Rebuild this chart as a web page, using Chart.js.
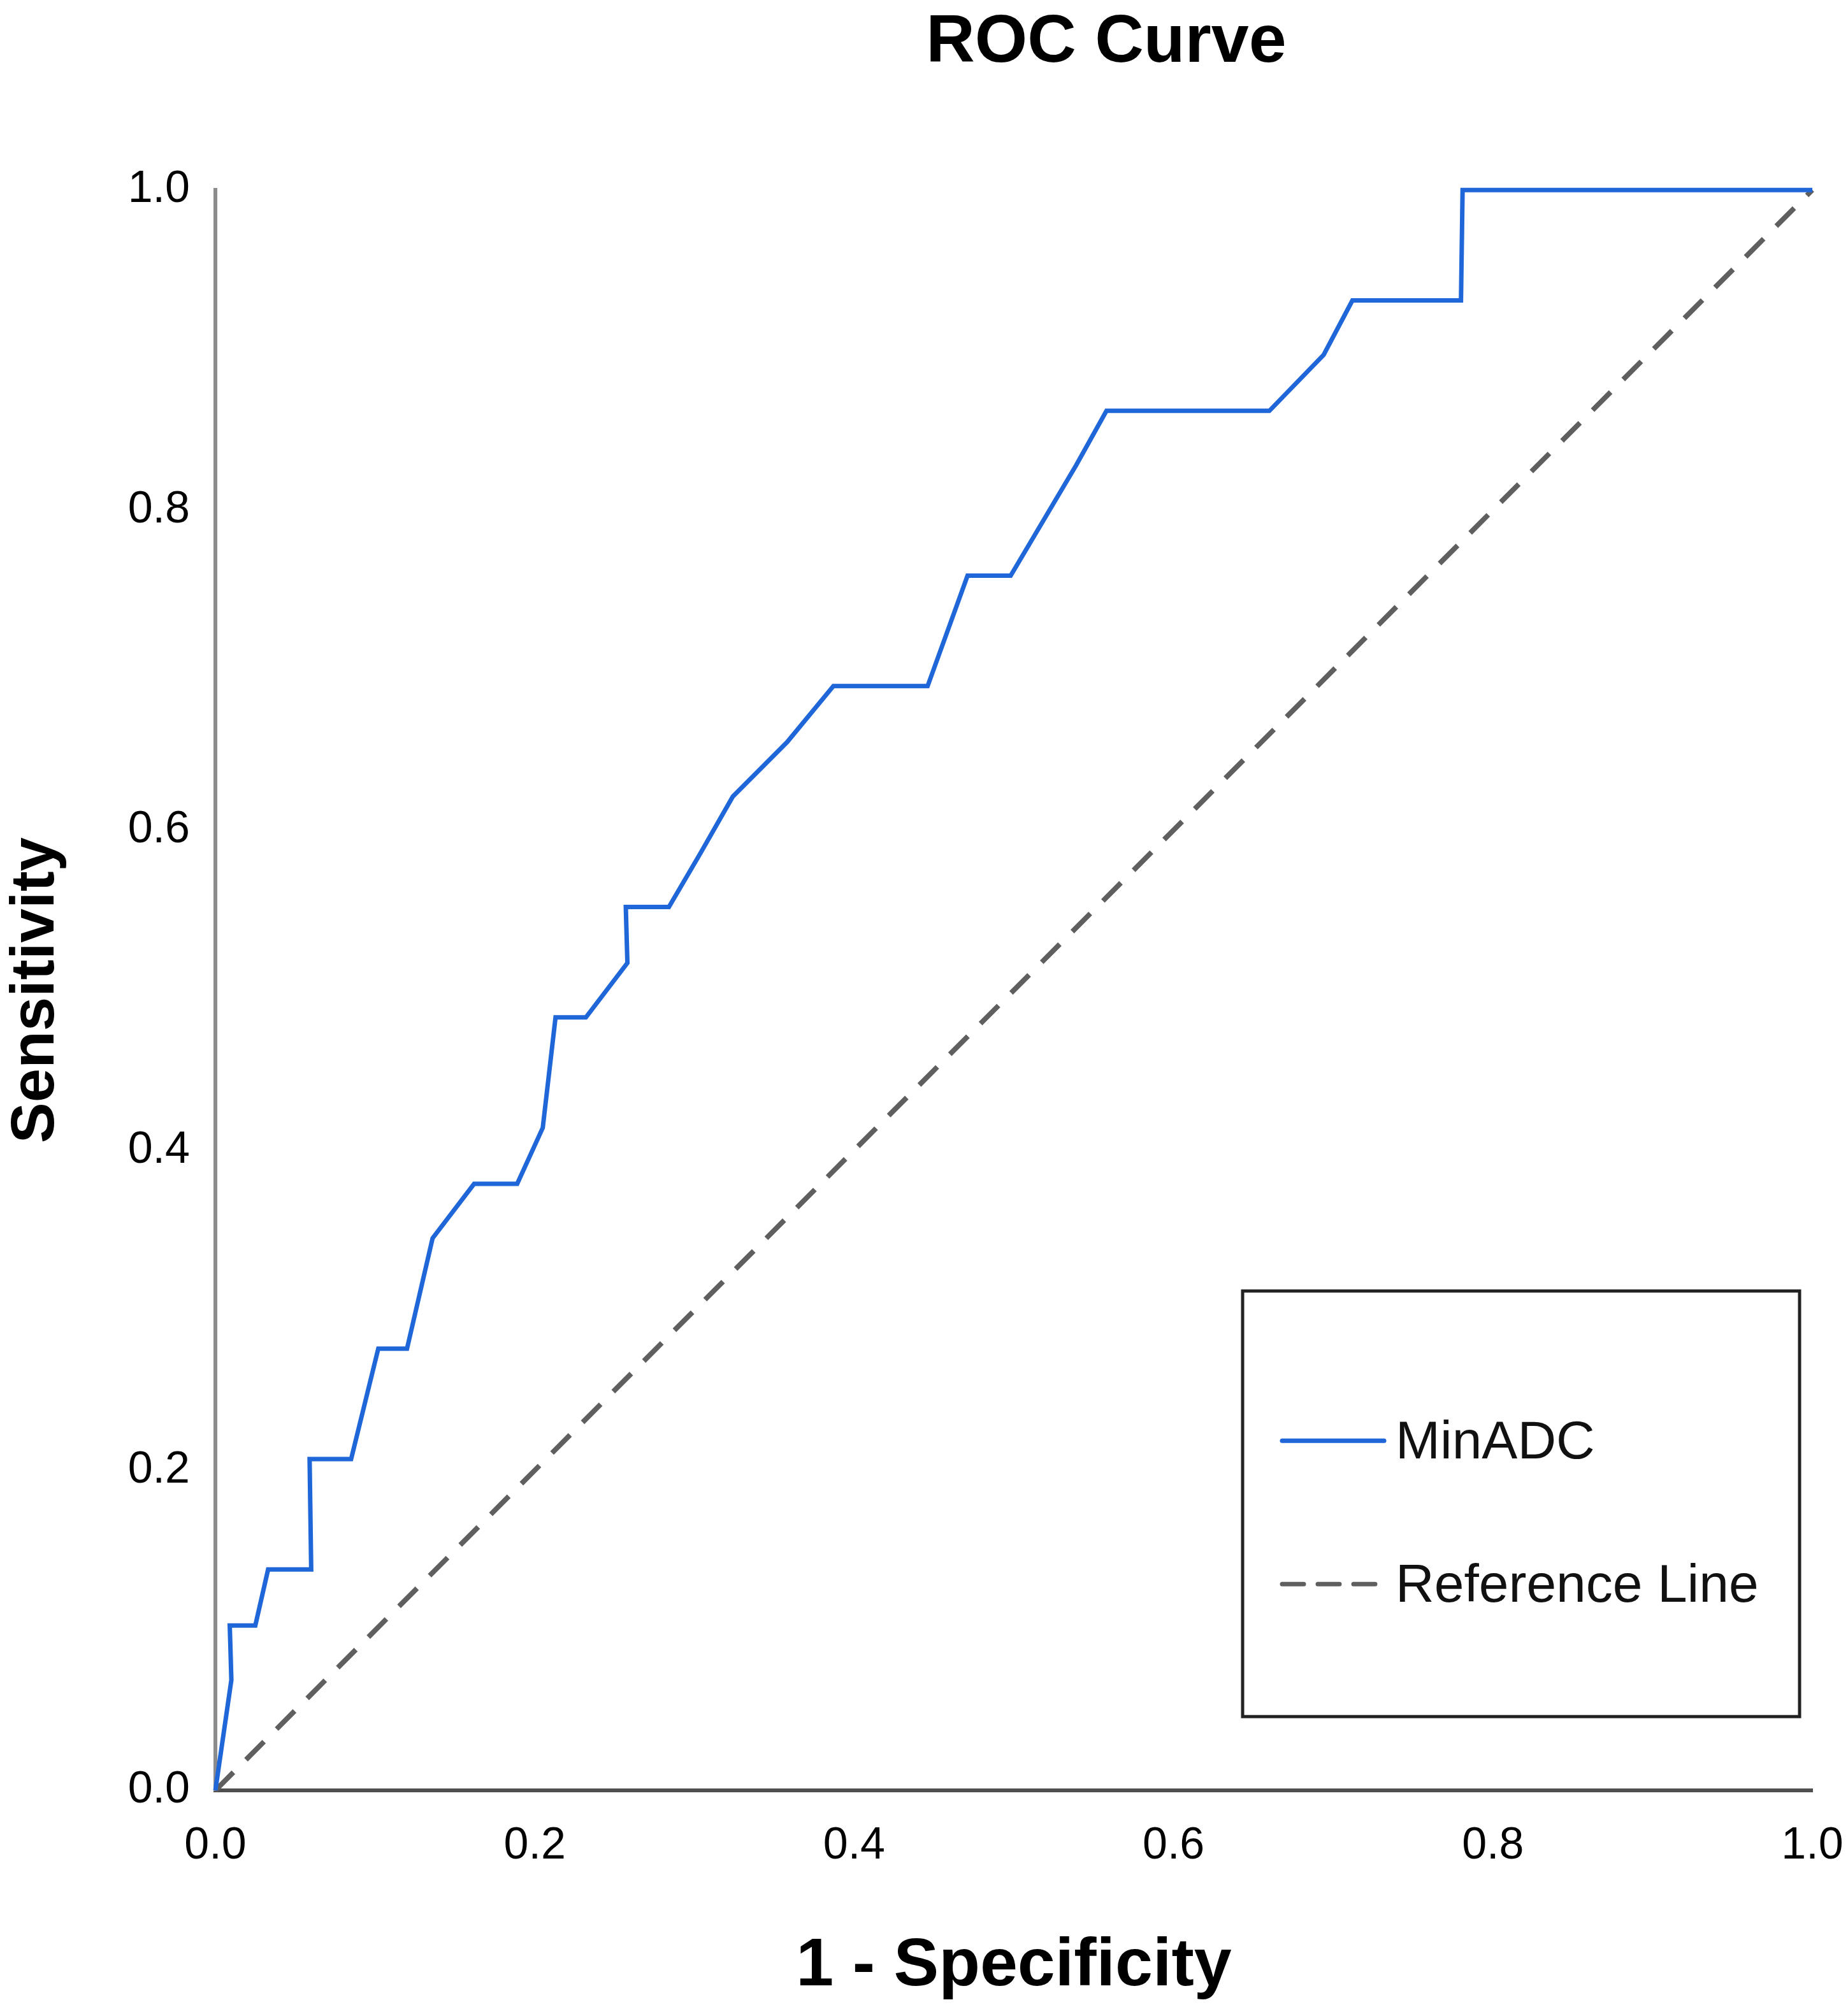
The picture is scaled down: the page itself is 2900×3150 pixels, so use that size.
<!DOCTYPE html>
<html>
<head>
<meta charset="utf-8">
<script src="https://cdn.jsdelivr.net/npm/chart.js@4.4.1/dist/chart.umd.min.js"></script>
<style>
  html, body { margin: 0; padding: 0; background: #ffffff; }
  #wrap { width: 2900px; height: 3150px; position: relative; }
</style>
</head>
<body>
<div id="wrap"><canvas id="c"></canvas></div>
<script>
// ---- data ----
const chartTitle = "ROC Curve";
const xTitle = "1 - Specificity";
const yTitle = "Sensitivity";
const seriesNames = ["MinADC", "Reference Line"];
const minadcFPR = [0, 0.010, 0.009, 0.025, 0.033, 0.060, 0.059, 0.085, 0.102, 0.120, 0.136, 0.162, 0.189, 0.205, 0.213, 0.232, 0.258, 0.257, 0.284, 0.304, 0.324, 0.358, 0.387, 0.446, 0.471, 0.498, 0.539, 0.558, 0.660, 0.694, 0.712, 0.780, 0.781, 1.0];
const minadcTPR = [0, 0.069, 0.103, 0.103, 0.138, 0.138, 0.207, 0.207, 0.276, 0.276, 0.345, 0.379, 0.379, 0.414, 0.483, 0.483, 0.517, 0.552, 0.552, 0.586, 0.621, 0.655, 0.690, 0.690, 0.759, 0.759, 0.828, 0.862, 0.862, 0.897, 0.931, 0.931, 1.0, 1.0];
const refX = [0, 1];
const refY = [0, 1];
const tickValues = [0, 0.2, 0.4, 0.6, 0.8, 1.0];
const tickLabels = ["0.0", "0.2", "0.4", "0.6", "0.8", "1.0"];

const FONT = "'Liberation Sans', Arial, Helvetica, sans-serif";
const blue = "#1f66d8";
const gray = "#5f5f5f";

const curvePts = minadcFPR.map((x, i) => ({ x: x, y: minadcTPR[i] }));
const refPts = refX.map((x, i) => ({ x: x, y: refY[i] }));

// title is centred a little right of the plot centre in the reference
const titleShift = {
  id: "titleShift",
  afterLayout(chart) {
    const tb = chart.titleBlock;
    if (tb) {
      tb.left = chart.chartArea.left + 290;
      tb.right = chart.chartArea.right;
    }
  }
};

const boxLegend = {
  id: "boxLegend",
  afterDraw(chart) {
    const ctx = chart.ctx;
    const ca = chart.chartArea;
    const left = ca.right - 894, right = ca.right - 20;
    const top = ca.top + 1728, bottom = ca.top + 2396;
    ctx.save();
    ctx.strokeStyle = "#222222";
    ctx.lineWidth = 5;
    ctx.strokeRect(left, top, right - left, bottom - top);
    const ds = chart.data.datasets;
    const rows = [top + 235, top + 460];
    ds.forEach((d, i) => {
      const y = rows[i];
      ctx.beginPath();
      ctx.strokeStyle = d.borderColor;
      ctx.lineWidth = 7;
      ctx.lineCap = "round";
      ctx.setLineDash(d.borderDash ? [34, 22] : []);
      ctx.moveTo(left + 62, y);
      ctx.lineTo(left + 222, y);
      ctx.stroke();
      ctx.setLineDash([]);
      ctx.fillStyle = "#111111";
      ctx.font = "84px " + FONT;
      ctx.textBaseline = "middle";
      ctx.textAlign = "left";
      ctx.fillText(d.label, left + 240, y + 5);
    });
    ctx.restore();
  }
};

new Chart(document.getElementById("c"), {
  type: "line",
  data: {
    datasets: [
      { label: seriesNames[0], data: curvePts, borderColor: blue, borderWidth: 7,
        pointRadius: 0, tension: 0, fill: false, clip: false, borderJoinStyle: "miter" },
      { label: seriesNames[1], data: refPts, borderColor: gray, borderWidth: 8,
        borderDash: [40, 28], pointRadius: 0, tension: 0, fill: false, clip: false }
    ]
  },
  options: {
    responsive: true,
    maintainAspectRatio: false,
    devicePixelRatio: 1,
    animation: false,
    layout: { padding: { top: 0, left: 0, right: 56, bottom: 0 } },
    plugins: {
      legend: { display: false },
      tooltip: { enabled: false },
      title: {
        display: true, text: chartTitle, color: "#000000",
        font: { family: FONT, size: 106, weight: "bold", lineHeight: 1.2 },
        padding: { top: 4, bottom: 167 }
      }
    },
    scales: {
      x: {
        type: "linear", min: 0, max: 1,
        afterBuildTicks(scale) { scale.ticks = tickValues.map(v => ({ value: v })); },
        afterFit(scale) { scale.height = 340; scale.paddingLeft = 0; scale.paddingRight = 0; },
        grid: { display: false, drawTicks: false },
        border: { display: true, color: "#4f4f4f", width: 6 },
        ticks: { padding: 46, color: "#000000", font: { family: FONT, size: 70 },
          callback: (v) => tickLabels[tickValues.indexOf(v)] ?? v.toFixed(1), maxRotation: 0, autoSkip: false },
        title: { display: true, text: xTitle, color: "#000000",
          font: { family: FONT, size: 106, weight: "bold", lineHeight: 1.2 },
          padding: { top: 0, bottom: 0 } }
      },
      y: {
        type: "linear", min: 0, max: 1,
        afterBuildTicks(scale) { scale.ticks = tickValues.map(v => ({ value: v })); },
        afterFit(scale) { scale.width = 338; scale.paddingTop = 0; scale.paddingBottom = 0; },
        grid: { display: false, drawTicks: false },
        border: { display: true, color: "#8c8c8c", width: 6 },
        ticks: { padding: 40, color: "#000000", font: { family: FONT, size: 70 },
          callback: (v) => tickLabels[tickValues.indexOf(v)] ?? v.toFixed(1), autoSkip: false },
        title: { display: true, text: yTitle, color: "#000000",
          font: { family: FONT, size: 96, weight: "bold", lineHeight: 1.2 },
          padding: { top: 0, bottom: 0 } }
      }
    }
  },
  plugins: [titleShift, boxLegend]
});
</script>
</body>
</html>
